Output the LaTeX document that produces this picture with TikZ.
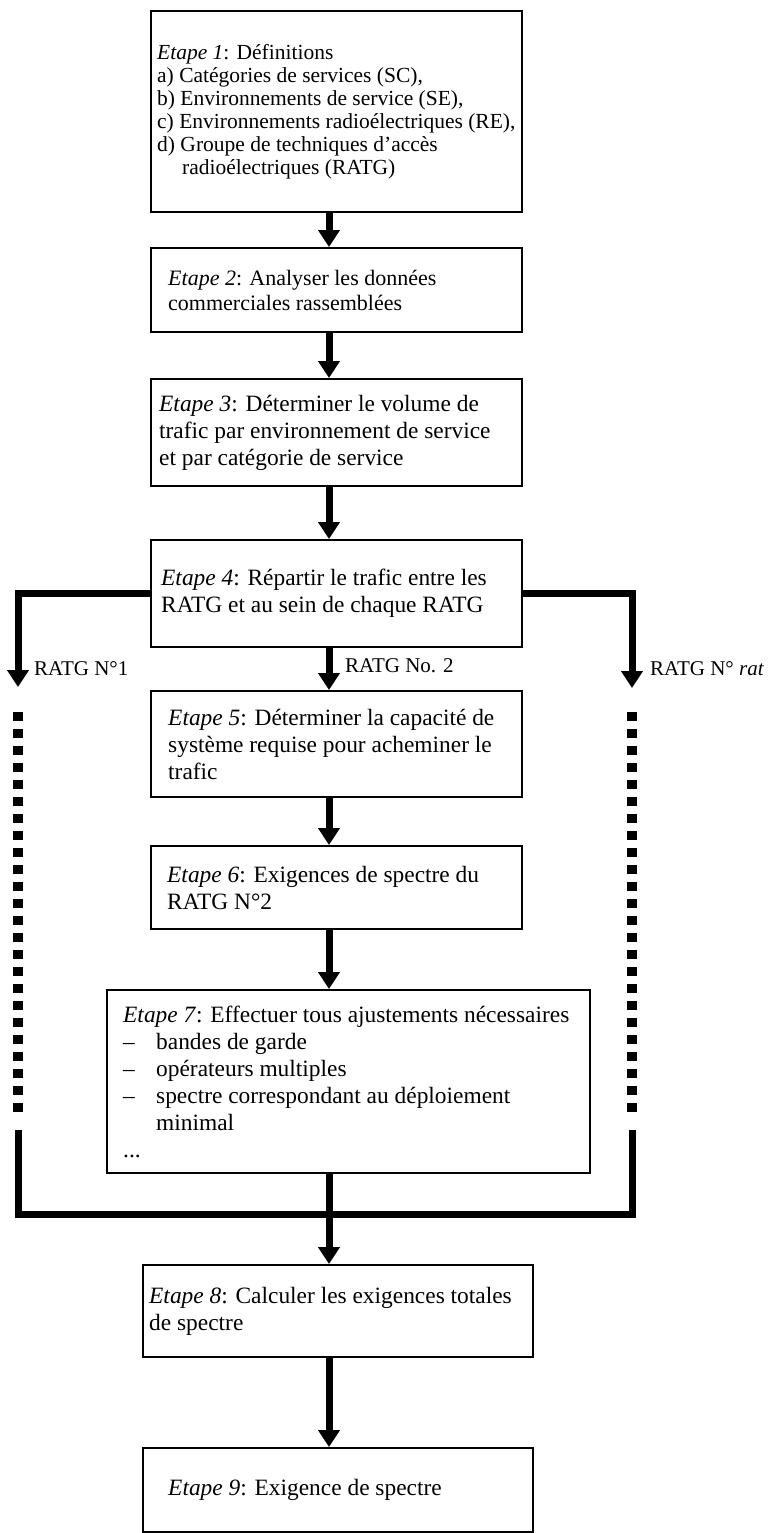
\documentclass[tikz,border=0pt]{standalone}
\usepackage{fontspec}
\setmainfont{Liberation Serif}
\usetikzlibrary{arrows.meta}
\begin{document}
\begin{tikzpicture}[x=1pt,y=-1pt,
  box/.style={draw, line width=2pt, inner sep=0pt, anchor=north west, rectangle},
  txt/.style={anchor=west, align=left, inner sep=0pt, font=\fontsize{23.4}{27}\selectfont},
  midtxt/.style={anchor=west, align=left, inner sep=0pt, font=\fontsize{22}{25}\selectfont},
  smalltxt/.style={anchor=west, align=left, inner sep=0pt, font=\fontsize{21.5}{23}\selectfont},
  lbl/.style={anchor=west, inner sep=0pt, font=\fontsize{21}{26}\selectfont},
  arr/.style={line width=7pt, line join=miter, -{Triangle[width=21pt,length=17pt]}},
  dotline/.style={line width=10pt, dash pattern=on 9pt off 8pt},
  bus/.style={line width=7pt, line join=miter}]
\useasboundingbox (0,0) rectangle (783,1533);
% boxes
\node[box, minimum width=371pt, minimum height=201pt] (b1) at (150,10) {};
\node[box, minimum width=371pt, minimum height=84pt]  (b2) at (150,247) {};
\node[box, minimum width=371pt, minimum height=107pt] (b3) at (150,378) {};
\node[box, minimum width=371pt, minimum height=107pt] (b4) at (150,539) {};
\node[box, minimum width=371pt, minimum height=106pt] (b5) at (150,690) {};
\node[box, minimum width=371pt, minimum height=83pt]  (b6) at (150,845) {};
\node[box, minimum width=483pt, minimum height=183pt] (b7) at (106,989) {};
\node[box, minimum width=390pt, minimum height=92pt]  (b8) at (142,1264) {};
\node[box, minimum width=390pt, minimum height=84pt]  (b9) at (142,1447) {};
% texts
\node[smalltxt] (t1) at ([xshift=7pt]b1.west) {\textit{Etape 1}: Définitions\\
a) Catégories de services (SC),\\
b) Environnements de service (SE),\\
c) Environnements radioélectriques (RE),\\
d) Groupe de techniques d’accès\\
\hspace*{25pt}radioélectriques (RATG)};
\node[midtxt] (t2) at ([xshift=18pt]b2.west) {\textit{Etape 2}: Analyser les données\\commerciales rassemblées};
\node[txt] (t3) at ([xshift=9pt]b3.west) {\textit{Etape 3}: Déterminer le volume de\\trafic par environnement de service\\et par catégorie de service};
\node[txt] (t4) at ([xshift=11pt]b4.west) {\textit{Etape 4}: Répartir le trafic entre les\\RATG et au sein de chaque RATG};
\node[txt] (t5) at ([xshift=18pt]b5.west) {\textit{Etape 5}: Déterminer la capacité de\\système requise pour acheminer le\\trafic};
\node[txt] (t6) at ([xshift=17pt]b6.west) {\textit{Etape 6}: Exigences de spectre du\\RATG N°2};
\node[txt] (t7) at ([xshift=17pt]b7.west) {\textit{Etape 7}: Effectuer tous ajustements nécessaires\\
\makebox[33pt][l]{–}bandes de garde\\
\makebox[33pt][l]{–}opérateurs multiples\\
\makebox[33pt][l]{–}spectre correspondant au déploiement\\
\hspace*{33pt}minimal\\
...};
\node[txt] (t8) at ([xshift=7pt]b8.west) {\textit{Etape 8}: Calculer les exigences totales\\de spectre};
\node[txt] (t9) at ([xshift=26pt]b9.west) {\textit{Etape 9}: Exigence de spectre};
% coordinates
\coordinate (ax) at (329,0);
\coordinate (lt) at (18,687);
\coordinate (rt) at (632,688);
\coordinate (d1a) at (18,712);
\coordinate (d1b) at (18,1112);
\coordinate (d2a) at (632,712);
\coordinate (d2b) at (632,1112);
\coordinate (s1) at (18,1130);
\coordinate (s2) at (632,1130);
\coordinate (bm) at (329,1214);
% vertical arrows
\draw[arr] (b1.south -| ax) -- (b2.north -| ax);
\draw[arr] (b2.south -| ax) -- (b3.north -| ax);
\draw[arr] (b3.south -| ax) -- (b4.north -| ax);
\draw[arr] (b4.south -| ax) -- (b5.north -| ax);
\draw[arr] (b5.south -| ax) -- (b6.north -| ax);
\draw[arr] (b6.south -| ax) -- (b7.north -| ax);
\draw[arr] (b7.south -| ax) -- (b8.north -| ax);
\draw[arr] (b8.south -| ax) -- (b9.north -| ax);
% branches
\draw[arr] (b4.west) -| (lt);
\draw[arr] (b4.east) -| (rt);
\node[lbl] (l1) at (34,669) {RATG N°1};
\node[lbl] (l2) at (345,666) {RATG No. 2};
\node[lbl] (l3) at (650,669) {RATG N° \textit{rat}};
% dotted lines
\draw[dotline] (d1a) -- (d1b);
\draw[dotline] (d2a) -- (d2b);
% bottom bus
\draw[bus] (s1) |- (bm) -| (s2);
\end{tikzpicture}
\end{document}
